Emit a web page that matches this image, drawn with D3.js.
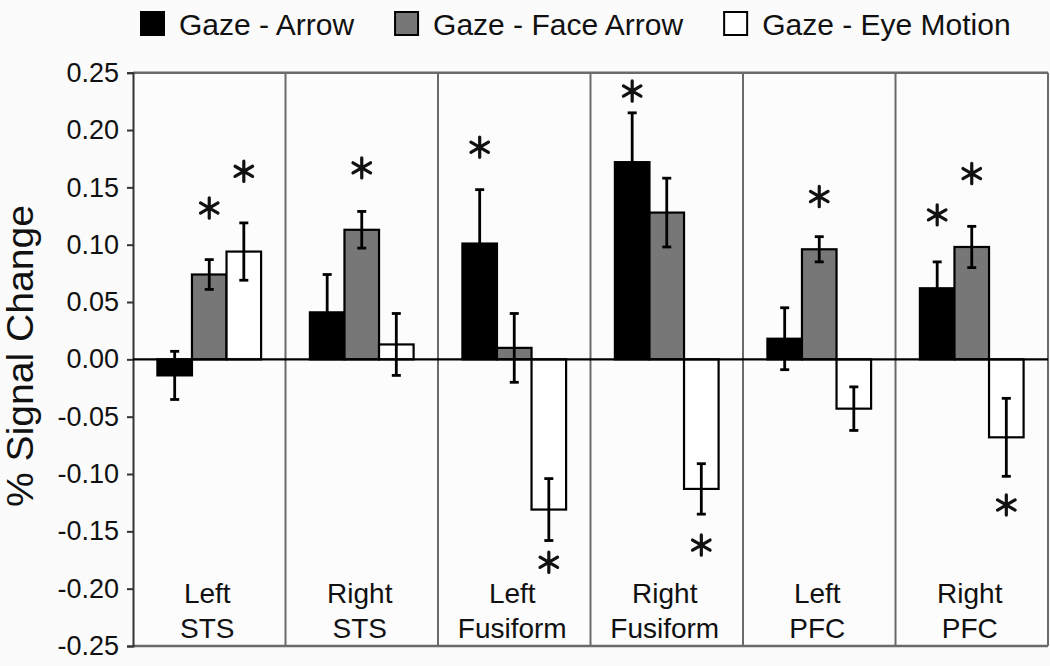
<!DOCTYPE html>
<html>
<head>
<meta charset="utf-8">
<script src="https://cdn.jsdelivr.net/npm/d3@7"></script>
<style>
  html, body { margin: 0; padding: 0; background: #fbfbfb; }
  svg { display: block; font-family: "Liberation Sans", Arial, Helvetica, sans-serif; }
</style>
</head>
<body>
<svg id="chart" width="1050" height="666"></svg>
<script>
// ---- data ----
const categories = ["Left STS", "Right STS", "Left Fusiform", "Right Fusiform", "Left PFC", "Right PFC"];
const categoryLine1 = ["Left", "Right", "Left", "Right", "Left", "Right"];
const categoryLine2 = ["STS", "STS", "Fusiform", "Fusiform", "PFC", "PFC"];
const seriesNames = ["Gaze - Arrow", "Gaze - Face Arrow", "Gaze - Eye Motion"];
const seriesColors = ["#000000", "#777777", "#ffffff"];

const arrowValues     = [-0.014, 0.041, 0.101, 0.172, 0.018, 0.062];
const arrowErrors     = [0.021, 0.033, 0.047, 0.043, 0.027, 0.023];
const faceArrowValues = [0.074, 0.113, 0.010, 0.128, 0.096, 0.098];
const faceArrowErrors = [0.013, 0.016, 0.030, 0.030, 0.011, 0.018];
const eyeMotionValues = [0.094, 0.013, -0.131, -0.113, -0.043, -0.068];
const eyeMotionErrors = [0.025, 0.027, 0.027, 0.022, 0.019, 0.034];

// significance asterisks (value position of the star, null = none)
const arrowStars     = [null, null, 0.185, 0.234, null, 0.126];
const faceArrowStars = [0.132, 0.167, null, null, 0.142, 0.162];
const eyeMotionStars = [0.164, null, -0.177, -0.162, null, -0.127];

const yTicks = [0.25, 0.20, 0.15, 0.10, 0.05, 0.00, -0.05, -0.10, -0.15, -0.20, -0.25];
const yTitle = "% Signal Change";

// ---- build table ----
const valuesBySeries = [arrowValues, faceArrowValues, eyeMotionValues];
const errorsBySeries = [arrowErrors, faceArrowErrors, eyeMotionErrors];
const starsBySeries = [arrowStars, faceArrowStars, eyeMotionStars];
const rows = [];
categories.forEach((c, i) => {
  seriesNames.forEach((s, j) => {
    rows.push({ cat: c, series: s, value: valuesBySeries[j][i], err: errorsBySeries[j][i], star: starsBySeries[j][i], color: seriesColors[j] });
  });
});

// ---- layout ----
const svg = d3.select("#chart");
const pLeft = 133, pRight = 1048, pTop = 72.7, pBottom = 646;

const x0 = d3.scaleBand().domain(categories).range([pLeft, pRight]).padding(0);
const x1 = d3.scaleBand().domain(seriesNames).range([x0.bandwidth() * 0.16, x0.bandwidth() * 0.84]).padding(0);
const y = d3.scaleLinear().domain([-0.25, 0.25]).range([pBottom, pTop]);

const font = '"Liberation Sans", Arial, Helvetica, sans-serif';

// panel background
svg.append("rect").attr("x", pLeft).attr("y", pTop).attr("width", pRight - pLeft).attr("height", pBottom - pTop)
  .attr("fill", "#fcfcfc");

// panel dividers
svg.append("g").selectAll("line").data(categories.slice(1)).join("line")
  .attr("x1", d => x0(d)).attr("x2", d => x0(d))
  .attr("y1", pTop).attr("y2", pBottom)
  .attr("stroke", "#6a6a6a").attr("stroke-width", 2);

// frame: top, right, bottom
svg.append("line").attr("x1", pLeft).attr("x2", pRight).attr("y1", pTop).attr("y2", pTop)
  .attr("stroke", "#6a6a6a").attr("stroke-width", 2.5);
svg.append("line").attr("x1", pRight).attr("x2", pRight).attr("y1", pTop).attr("y2", pBottom)
  .attr("stroke", "#6a6a6a").attr("stroke-width", 2);
svg.append("line").attr("x1", pLeft).attr("x2", pRight).attr("y1", pBottom).attr("y2", pBottom)
  .attr("stroke", "#6a6a6a").attr("stroke-width", 2.5);

// y axis
const yAxis = d3.axisLeft(y).tickValues(yTicks).tickFormat(d => d.toFixed(2)).tickSize(6).tickPadding(8);
const ga = svg.append("g").attr("transform", `translate(${pLeft},0)`).call(yAxis);
ga.select(".domain").attr("stroke", "#333").attr("stroke-width", 2);
ga.selectAll(".tick line").attr("stroke", "#333").attr("stroke-width", 2);
ga.selectAll(".tick text").attr("font-size", 27).attr("font-family", font).attr("fill", "#111");

// y title
svg.append("text")
  .attr("transform", `translate(33,356) rotate(-90)`)
  .attr("text-anchor", "middle")
  .attr("font-size", 37).attr("font-family", font).attr("fill", "#111")
  .attr("textLength", 302).attr("lengthAdjust", "spacingAndGlyphs")
  .text(yTitle);

// bars
const g = svg.append("g");
g.selectAll("rect.bar").data(rows).join("rect").attr("class", "bar")
  .attr("x", d => x0(d.cat) + x1(d.series))
  .attr("width", x1.bandwidth())
  .attr("y", d => y(Math.max(0, d.value)))
  .attr("height", d => Math.abs(y(d.value) - y(0)))
  .attr("fill", d => d.color)
  .attr("stroke", "#000").attr("stroke-width", 2.2);

// zero line
svg.append("line").attr("x1", pLeft).attr("x2", pRight).attr("y1", y(0)).attr("y2", y(0))
  .attr("stroke", "#000").attr("stroke-width", 2.2);

// error bars
const cx = d => x0(d.cat) + x1(d.series) + x1.bandwidth() / 2;
const eg = svg.append("g").attr("stroke", "#000").attr("stroke-width", 2.8);
eg.selectAll("line.v").data(rows).join("line").attr("class", "v")
  .attr("x1", cx).attr("x2", cx)
  .attr("y1", d => y(d.value + d.err)).attr("y2", d => y(d.value - d.err));
eg.selectAll("line.t").data(rows).join("line").attr("class", "t")
  .attr("x1", d => cx(d) - 4.5).attr("x2", d => cx(d) + 4.5)
  .attr("y1", d => y(d.value + d.err)).attr("y2", d => y(d.value + d.err));
eg.selectAll("line.b").data(rows).join("line").attr("class", "b")
  .attr("x1", d => cx(d) - 4.5).attr("x2", d => cx(d) + 4.5)
  .attr("y1", d => y(d.value - d.err)).attr("y2", d => y(d.value - d.err));

// asterisks
const starRows = rows.filter(d => d.star !== null);
const starPath = d3.symbol().type(d3.symbolAsterisk).size(290)();
const sg = svg.append("g").selectAll("g").data(starRows).join("g")
  .attr("transform", d => `translate(${cx(d)},${y(d.star)})`);
sg.append("path").attr("d", starPath).attr("fill", "none")
  .attr("stroke", "#111").attr("stroke-width", 3.2).attr("stroke-linecap", "round");

// category labels
const lg = svg.append("g").attr("font-family", font).attr("font-size", 28).attr("fill", "#111").attr("text-anchor", "middle");
lg.selectAll("text.l1").data(categories).join("text").attr("class", "l1")
  .attr("x", d => x0(d) + x0.bandwidth() / 2 - 2).attr("y", 603)
  .text((d, i) => categoryLine1[i]);
lg.selectAll("text.l2").data(categories).join("text").attr("class", "l2")
  .attr("x", d => x0(d) + x0.bandwidth() / 2 - 2).attr("y", 638)
  .text((d, i) => categoryLine2[i]);

// legend
const leg = svg.append("g");
let lx = 141;
seriesNames.forEach((s, j) => {
  leg.append("rect").attr("x", lx).attr("y", 12).attr("width", 23).attr("height", 23)
    .attr("fill", seriesColors[j]).attr("stroke", "#000").attr("stroke-width", 2);
  const t = leg.append("text").attr("x", lx + 38).attr("y", 35)
    .attr("font-size", 30).attr("font-family", font).attr("fill", "#111").text(s);
  lx = lx + 38 + t.node().getComputedTextLength() + 41;
});
</script>
</body>
</html>
